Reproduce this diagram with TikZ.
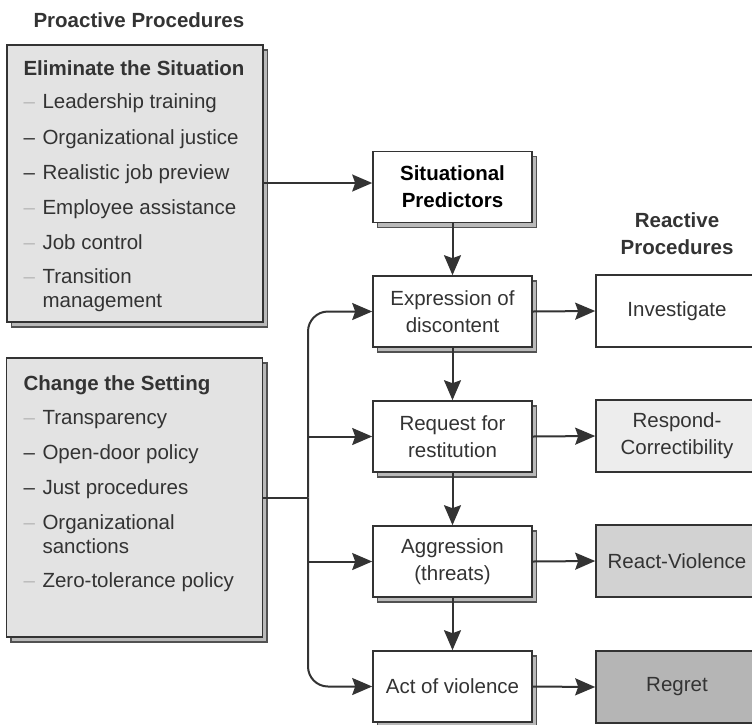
\documentclass[tikz,border=0pt]{standalone}
\usepackage{fontspec}
\setmainfont{Liberation Sans}
\usepackage{xcolor}
\usepackage{tikz}
\usetikzlibrary{arrows.meta}
\usetikzlibrary{shadows}

\definecolor{ink}{HTML}{333333}
\definecolor{paper}{HTML}{E3E3E3}
\newcommand{\figfont}{\fontsize{20.5}{27}\selectfont}

\begin{document}
\begin{tikzpicture}[x=1pt,y=-1pt,
        every node/.style={font=\figfont,text=ink},
        shade/.style={copy shadow={shadow xshift=4.5pt,shadow yshift=-5pt,fill=gray!55,draw=ink!85,line width=1.2pt}},
        panel/.style={draw=ink,line width=1.6pt,fill=paper,minimum width=256pt,inner sep=0pt,shade},
        stage/.style={draw=ink,line width=1.6pt,fill=white,minimum width=159pt,minimum height=71pt,align=center,shade},
        react/.style={draw=ink,line width=1.6pt,minimum width=162pt,minimum height=72pt,align=center},
        item/.style={anchor=base west,align=left,font=\fontsize{20.5}{24.5}\selectfont},
        flow/.style={draw=ink,line width=2pt,-{Stealth[length=20pt,width=17pt,inset=3pt]}}]
        \useasboundingbox (0,0) rectangle (752,724);
        \clip (0,0) rectangle (752,724);
        % proactive side
        \node[anchor=base west,font=\figfont\bfseries] (pro) at (30,27) {Proactive Procedures};
        \node[panel,minimum height=277pt] (elim) at (135,183.5) {};
        \node[panel,minimum height=279pt] (sett) at (134.5,497.5) {};
        \node[anchor=base west,font=\figfont\bfseries] (elimhead) at (20,75) {Eliminate the Situation};
        \node[anchor=base west,font=\figfont\bfseries] (setthead) at (20,390) {Change the Setting};
        % dash line / last text line / dash colour
        \foreach \txt/\dy/\ty/\dc [count=\i] in {Leadership training/108/108/gray!55,
                Organizational justice/144/144/ink,Realistic job preview/179/179/ink,
                Employee assistance/214/214/gray!55,Job control/249/249/gray!55,
                {Transition\\management}/283/307.5/gray!55}{
            \node[item,text=\dc] (ed\i) at (20,\dy) {\textendash};
            \node[item] (et\i) at (39,\ty) {\txt};
        }
        \foreach \txt/\dy/\ty/\dc [count=\i] in {Transparency/424/424/gray!55,
                Open-door policy/459/459/ink,Just procedures/494/494/ink,
                {Organizational\\sanctions}/529/553.5/gray!55,
                Zero-tolerance policy/587/587/gray!55}{
            \node[item,text=\dc] (sd\i) at (20,\dy) {\textendash};
            \node[item] (st\i) at (39,\ty) {\txt};
        }
        % escalation chain
        \node[stage,font=\figfont\bfseries,text=black] (sit) at (452.5,187) {Situational\\Predictors};
        \node[stage] (expr) at (452.5,311.5) {Expression of\\discontent};
        \node[stage] (req) at (452.5,436.5) {Request for\\restitution};
        \node[stage] (agg) at (452.5,561.5) {Aggression\\(threats)};
        \node[stage] (act) at (452.5,686.5) {Act of violence};
        % reactive side
        \node[align=center,font=\figfont\bfseries] (rea) at (677,234) {Reactive\\Procedures};
        \node[react,fill=white] (inv) at (677,311) {Investigate};
        \node[react,fill=gray!14] (resp) at (677,436) {Respond-\\Correctibility};
        \node[react,fill=gray!35] (rv) at (677,561) {React-Violence};
        \node[react,fill=gray!58] (reg) at (677,687) {Regret};
        % connectors
        \coordinate (feed) at (263,183);
        \draw[flow] (feed) -- (feed -| sit.west);
        \draw[flow] (sit.south) -- (expr.north);
        \draw[flow] (expr.south) -- (req.north);
        \draw[flow] (req.south) -- (agg.north);
        \draw[flow] (agg.south) -- (act.north);
        \draw[flow] (expr.east) -- (inv.west);
        \draw[flow] (req.east) -- (resp.west);
        \draw[flow] (agg.east) -- (rv.west);
        \draw[flow] (act.east) -- (reg.west);
        \coordinate (trunk) at (308,497.5);
        \draw[draw=ink,line width=2pt] (sett.east) -- (trunk);
        \draw[flow,rounded corners=20pt] (trunk) |- (expr.west);
        \draw[flow,rounded corners=20pt] (trunk) |- (act.west);
        \draw[flow] (trunk |- req.west) -- (req.west);
        \draw[flow] (trunk |- agg.west) -- (agg.west);
    \end{tikzpicture}
\end{document}
